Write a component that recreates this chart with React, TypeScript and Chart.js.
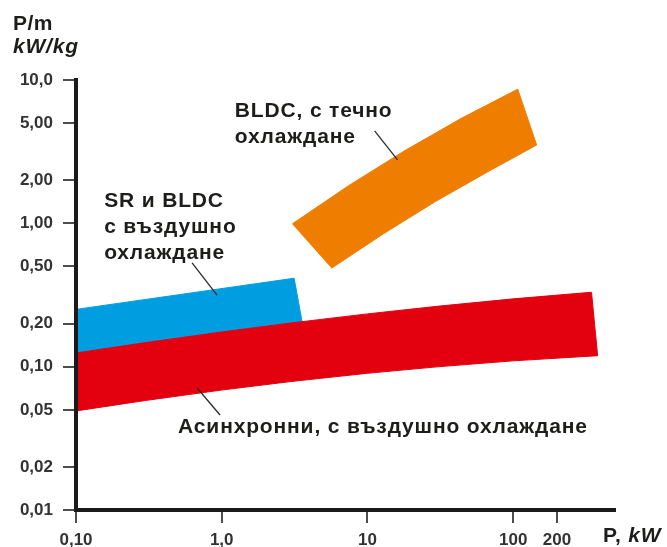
import React, { useEffect, useRef } from "react";
import { Chart, registerables } from "chart.js";

Chart.register(...registerables);

// ---- Axis ticks ----
const xTicks = [0.1, 1, 10, 100, 200];
const xTickLabels = ["0,10", "1,0", "10", "100", "200"];
const yTicks = [0.01, 0.02, 0.05, 0.1, 0.2, 0.5, 1, 2, 5, 10];
const yTickLabels = ["0,01", "0,02", "0,05", "0,10", "0,20", "0,50", "1,00", "2,00", "5,00", "10,0"];

// ---- Asynchronous motors, air cooled (red band) ----
const asyncUpperP = [0.1, 0.3, 1, 3, 10, 30, 100, 345];
const asyncUpperPm = [0.1246, 0.1472, 0.1746, 0.2018, 0.2335, 0.2636, 0.2972, 0.3305];
const asyncLowerP = [0.1, 0.3, 1, 3, 10, 30, 100, 380];
const asyncLowerPm = [0.0491, 0.0581, 0.0687, 0.0788, 0.0899, 0.0997, 0.1098, 0.1193];

// ---- SR and BLDC, air cooled (blue band) ----
const srUpperP = [0.1, 3.14];
const srUpperPm = [0.251, 0.414];
const srLowerP = [0.1, 0.3, 1, 3, 3.56];
const srLowerPm = [0.1246, 0.1472, 0.1746, 0.2018, 0.2062];

// ---- BLDC, liquid cooled (orange band) ----
const bldcUpperP = [3.045, 7.42, 18.1, 44.1, 107.5];
const bldcUpperPm = [0.99, 1.83, 3.22, 5.4, 8.63];
const bldcLowerP = [5.67, 12.9, 29.3, 66.6, 145];
const bldcLowerPm = [0.486, 0.847, 1.42, 2.28, 3.52];

// ---- Annotation texts (anchors in data coordinates) ----
const annotations = [
  {
    lines: ["BLDC, с течно", "охлаждане"],
    at: [1.23, 5.52],
    leader: [[11.2, 4.42], [16.1, 2.77]],
  },
  {
    lines: ["SR и BLDC", "с въздушно", "охлаждане"],
    at: [0.156, 1.3],
    leader: [[0.626, 0.53], [0.929, 0.316]],
  },
  {
    lines: ["Асинхронни, с въздушно охлаждане"],
    at: [0.502, 0.0345],
    leader: [[0.678, 0.071], [0.974, 0.046]],
  },
];

const FONT = '"Liberation Sans", Arial, Helvetica, sans-serif';
const TEXT = "#1d1d1b";

function polygon(upX: number[], upY: number[], loX: number[], loY: number[]) {
  const pts = upX.map((x, i) => ({ x, y: upY[i] }));
  for (let i = loX.length - 1; i >= 0; i--) pts.push({ x: loX[i], y: loY[i] });
  return pts;
}

function band(label: string, color: string, data: { x: number; y: number }[]) {
  return {
    label,
    data,
    borderColor: color,
    backgroundColor: color,
    borderWidth: 1,
    pointRadius: 0,
    tension: 0,
    fill: "shape",
  };
}

const overlayPlugin = {
  id: "overlay",
  afterDraw(chart: any) {
    const ctx = chart.ctx;
    const xs = chart.scales.x;
    const ys = chart.scales.y;
    ctx.save();
    // leaders
    ctx.strokeStyle = "#2b2b2b";
    ctx.lineWidth = 1.3;
    for (const a of annotations) {
      ctx.beginPath();
      ctx.moveTo(xs.getPixelForValue(a.leader[0][0]), ys.getPixelForValue(a.leader[0][1]));
      ctx.lineTo(xs.getPixelForValue(a.leader[1][0]), ys.getPixelForValue(a.leader[1][1]));
      ctx.stroke();
    }
    // texts
    ctx.fillStyle = TEXT;
    ctx.textAlign = "left";
    ctx.textBaseline = "alphabetic";
    (ctx as any).letterSpacing = "0.85px";
    ctx.font = `bold 21px ${FONT}`;
    for (const a of annotations) {
      const x0 = xs.getPixelForValue(a.at[0]);
      const y0 = ys.getPixelForValue(a.at[1]);
      a.lines.forEach((t, i) => ctx.fillText(t, x0, y0 + i * 26));
    }
    // axis titles
    (ctx as any).letterSpacing = "0.4px";
    ctx.font = `bold 21px ${FONT}`;
    ctx.fillText("P/m", 13, 30);
    (ctx as any).letterSpacing = "0.8px";
    ctx.font = `italic bold 21px ${FONT}`;
    ctx.fillText("kW/kg", 13, 53);
    ctx.font = `bold 21px ${FONT}`;
    const px = 603;
    ctx.fillText("P, ", px, 542);
    const w = ctx.measureText("P, ").width;
    ctx.font = `italic bold 21px ${FONT}`;
    ctx.fillText("kW", px + w, 542);
    (ctx as any).letterSpacing = "0px";
    ctx.restore();
  },
};

export default function App() {
  const ref = useRef<HTMLCanvasElement | null>(null);

  useEffect(() => {
    if (!ref.current) return;
    const tickFont = { family: FONT, size: 17, weight: "bold" as const };
    const chart = new Chart(ref.current, {
      type: "line",
      data: {
        datasets: [
          band("Асинхронни, с въздушно охлаждане", "#e3000f", polygon(asyncUpperP, asyncUpperPm, asyncLowerP, asyncLowerPm)),
          band("SR и BLDC с въздушно охлаждане", "#009ee0", polygon(srUpperP, srUpperPm, srLowerP, srLowerPm)),
          band("BLDC, с течно охлаждане", "#ef7d00", polygon(bldcUpperP, bldcUpperPm, bldcLowerP, bldcLowerPm)),
        ] as any,
      },
      options: {
        responsive: false,
        animation: false,
        events: [],
        layout: { padding: { top: 80, right: 52, left: 0, bottom: 0 } },
        plugins: { legend: { display: false }, tooltip: { enabled: false } },
        scales: {
          x: {
            type: "logarithmic",
            min: 0.1,
            max: 500,
            afterBuildTicks: (s: any) => {
              s.ticks = xTicks.map((v) => ({ value: v }));
            },
            afterFit: (s: any) => {
              s.height = 37;
            },
            ticks: {
              autoSkip: false,
              maxRotation: 0,
              padding: 7,
              font: tickFont,
              color: "#333333",
              callback: (v: any) => {
                const i = xTicks.indexOf(Number(v));
                return i >= 0 ? xTickLabels[i] : "";
              },
            },
            grid: { drawOnChartArea: false, drawTicks: true, tickLength: 13, color: "#4d4d4d", lineWidth: 2 },
            border: { display: true, color: "#1a1a1a", width: 4, z: 1 },
          },
          y: {
            type: "logarithmic",
            min: 0.01,
            max: 10,
            afterBuildTicks: (s: any) => {
              s.ticks = yTicks.map((v) => ({ value: v }));
            },
            afterFit: (s: any) => {
              s.width = 76;
            },
            ticks: {
              autoSkip: false,
              padding: 10,
              font: tickFont,
              color: "#333333",
              callback: (v: any) => {
                const i = yTicks.indexOf(Number(v));
                return i >= 0 ? yTickLabels[i] : "";
              },
            },
            grid: { drawOnChartArea: false, drawTicks: true, tickLength: 13, color: "#4d4d4d", lineWidth: 2 },
            border: { display: true, color: "#1a1a1a", width: 4, z: 1 },
          },
        },
      } as any,
      plugins: [overlayPlugin],
    });
    return () => chart.destroy();
  }, []);

  return (
    <div style={{ position: "absolute", left: 0, top: 0, width: 667, height: 547, background: "#fff" }}>
      <canvas ref={ref} width={667} height={547} style={{ display: "block" }} />
    </div>
  );
}
